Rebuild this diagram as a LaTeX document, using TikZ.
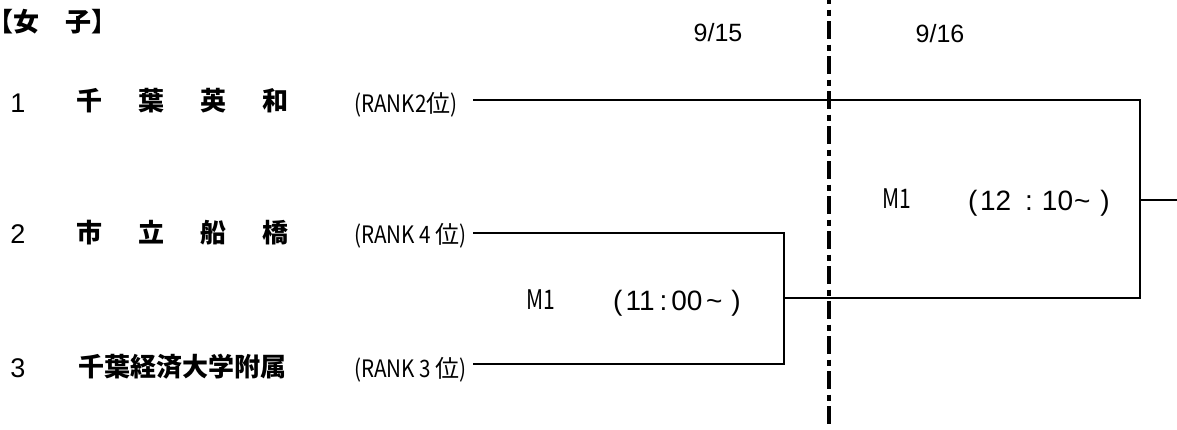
\documentclass[tikz,border=0pt]{standalone}
\usepackage{fontspec}
\setmainfont{Liberation Sans}
\newfontfamily\cjk{Noto Sans CJK JP}
\newfontfamily\cond{Noto Sans CJK JP}[FakeStretch=0.86]
\newfontfamily\condm{Noto Sans CJK JP}[FakeStretch=0.78]
\tikzset{
  txt/.style={inner sep=0pt, font=\fontsize{27}{32}\selectfont},
  timelbl/.style={inner sep=0pt, anchor=base west, font=\fontsize{28}{32}\selectfont},
  datelbl/.style={inner sep=0pt, anchor=base, font=\fontsize{25}{30}\selectfont},
  team/.style={inner sep=0pt, font=\cjk\bfseries\fontsize{26}{30}\selectfont},
  ranklbl/.style={inner sep=0pt, anchor=base west, font=\cond\fontsize{24}{30}\selectfont},
  matchlbl/.style={inner sep=0pt, anchor=base west, font=\condm\fontsize{27}{30}\selectfont},
  wire/.style={line width=2pt},
  daybreak/.style={line width=4.3pt, dash pattern=on 18pt off 5.5pt on 6pt off 5.5pt, dash phase=14pt}
}
\begin{document}
\begin{tikzpicture}[x=1pt,y=-1pt]
\useasboundingbox (0,0) rectangle (1177,429);
% title and dates
\node[team, anchor=west] (title) at (-13,22) {【女　子】};
\node[datelbl] (day1) at (718,41) {9/15};
\node[datelbl] (day2) at (940,42) {9/16};
% seed numbers
\node[txt, anchor=base] (n1) at (18,112) {1};
\node[txt, anchor=base] (n2) at (18,243) {2};
\node[txt, anchor=base] (n3) at (18,377) {3};
% teams
\node[team] (t1) at (182.5,101) {\makebox[213pt]{千\hfill 葉\hfill 英\hfill 和}};
\node[team] (t2) at (182.5,233) {\makebox[213pt]{市\hfill 立\hfill 船\hfill 橋}};
\node[team] (t3) at (182.5,367) {千葉経済大学附属};
% ranks
\node[ranklbl] (k1) at (354,112) {(RANK2{\cjk 位})};
\node[ranklbl] (k2) at (354,243) {(RANK 4 {\cjk 位})};
\node[ranklbl] (k3) at (354,377) {(RANK 3 {\cjk 位})};
% match labels
\node[matchlbl] (m1) at (526,309) {M1};
\node[timelbl] (m1t) at (613,310) {(\hspace{3pt}11\hspace{5pt}:\hspace{4pt}00\hspace{3.5pt}\textasciitilde\hspace{9pt})};
\node[matchlbl] (m2) at (882,208) {M1};
\node[timelbl] (m2t) at (968,210) {(\hspace{2.5pt}12\hspace{14pt}:\hspace{9pt}10\hspace{1pt}\textasciitilde\hspace{10pt})};
% bracket coordinates
\coordinate (a1) at (473,100);
\coordinate (a2) at (473,233);
\coordinate (a3) at (473,364);
\coordinate (c3) at (784,364);
\coordinate (m1out) at (784,298);
\coordinate (b2) at (1140,298);
\coordinate (bmid) at (1140,200);
\coordinate (win) at (1177,200);
\coordinate (dtop) at (829,0);
\coordinate (dbot) at (829,429);
% day separator
\draw[daybreak] (dtop) -- (dbot);
% brackets
\draw[wire] (a2) -| (c3) -- (a3);
\draw[wire] (a1) -| (b2) -- (m1out);
\draw[wire] (bmid) -- (win);
\end{tikzpicture}
\end{document}
